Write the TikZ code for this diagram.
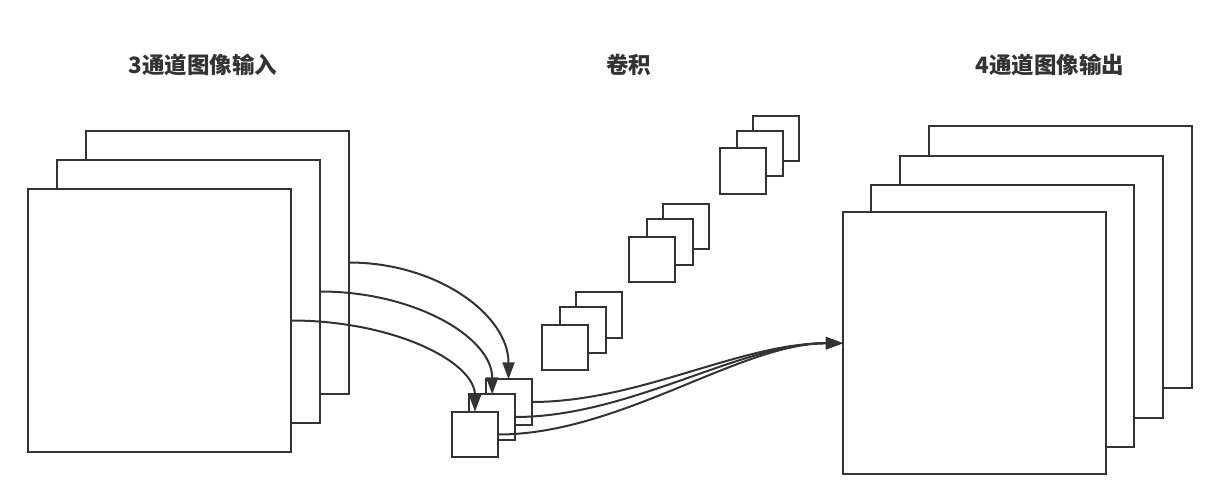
\documentclass[tikz,border=0pt]{standalone}
\usepackage{fontspec}
\newfontfamily\cjk{Noto Sans CJK SC}
\usetikzlibrary{arrows.meta}
\definecolor{ink}{HTML}{333333}
\begin{document}
\begin{tikzpicture}[x=1pt,y=-1pt,
  layer/.style={draw=ink, fill=white, line width=2pt, minimum width=263pt, minimum height=263pt, inner sep=0pt, outer sep=0pt},
  kern/.style={draw=ink, fill=white, line width=2pt, minimum width=46pt, minimum height=45.5pt, inner sep=0pt, outer sep=0pt},
  title/.style={font=\cjk\bfseries\fontsize{22.5}{27}\selectfont, text=ink, inner sep=0pt},
  conn/.style={draw=ink, line width=2pt, -{Triangle[length=17pt,width=12pt]}},
  line/.style={draw=ink, line width=2pt}]
\fill[white] (0,0) rectangle (1220,503);
\useasboundingbox (0,0) rectangle (1220,503);

% titles
\node[title] (tin) at (203,64.5) {3通道图像输入};
\node[title] (tconv) at (628.5,64.5) {卷积};
\node[title] (tout) at (1050,64.5) {4通道图像输出};

% input layers
\node[layer] (in3) at (217.5,262.5) {};
\node[layer] (in2) at (188.5,291.5) {};
\node[layer] (in1) at (159.5,320.5) {};

% output layers
\node[layer, minimum height=262pt] (out4) at (1060,257.2) {};
\node[layer, minimum height=262pt] (out3) at (1031,286.5) {};
\node[layer, minimum height=262pt] (out2) at (1002,315.7) {};
\node[layer, minimum height=262pt] (out1) at (974.4,343.2) {};

% kernel groups (decorative)
\node[kern] (ga3) at (598.8,315.2) {};
\node[kern] (ga2) at (582.5,330.2) {};
\node[kern] (ga1) at (565.2,347.5) {};

\node[kern] (gb3) at (686,226.7) {};
\node[kern] (gb2) at (669.5,242) {};
\node[kern] (gb1) at (652.2,259.3) {};

\node[kern] (gc3) at (776,138.3) {};
\node[kern] (gc2) at (759.7,153.7) {};
\node[kern] (gc1) at (742.5,171.2) {};

% active kernel
\node[kern] (k3) at (508.5,402) {};
\node[kern] (k2) at (492.2,417) {};
\node[kern] (k1) at (475,434.5) {};

% input connectors
\draw[conn] (in3.east) .. controls +(88,0) and +(0,-64.5) .. (k3.north);
\draw[conn] (in2.east) .. controls +(95,0) and +(0,-56.7) .. (k2.north);
\draw[conn] (in1.east) .. controls +(101.6,0) and +(0,-50.3) .. (k1.north);

% output connectors
\draw[conn] (k3.east) .. controls +(108,0) and +(-103,0) .. (out1.west);
\draw[conn] (k2.east) .. controls +(115,0) and +(-103,0) .. (out1.west);
\draw[conn] (k1.east) .. controls +(122,0) and +(-103,0) .. (out1.west);
\end{tikzpicture}
\end{document}
